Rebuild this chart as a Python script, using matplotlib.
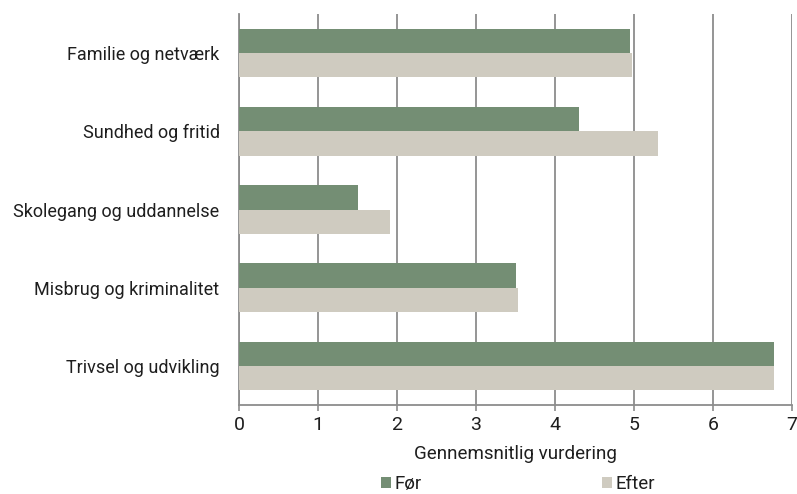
import numpy as np
import matplotlib.pyplot as plt

# data
categories = ["Familie og netværk", "Sundhed og fritid", "Skolegang og uddannelse",
              "Misbrug og kriminalitet", "Trivsel og udvikling"]
foer = [4.95, 4.30, 1.50, 3.50, 6.77]
efter = [4.98, 5.30, 1.91, 3.53, 6.77]
xticks = [0, 1, 2, 3, 4, 5, 6, 7]

green = "#748e74"
beige = "#cfcbc0"
grid_col = "#8c8c8c"
text_col = "#1e1e1e"

plt.rcParams['font.family'] = ['Roboto', 'DejaVu Sans']

fig = plt.figure(figsize=(7.97, 4.94), dpi=100)
ax = fig.add_axes([239 / 797, 1 - 405 / 494, 553 / 797, 391 / 494])

y = np.arange(len(categories))
h = 0.31
ax.barh(y - h / 2, foer, height=h, color=green, label="Før", zorder=3)
ax.barh(y + h / 2, efter, height=h, color=beige, label="Efter", zorder=3)

ax.set_ylim(len(categories) - 0.5, -0.5)
ax.set_xlim(0, 7)
ax.set_xticks(xticks)
ax.set_yticks(y)
ax.set_yticklabels(categories, fontsize=13, color=text_col)
ax.tick_params(axis='y', length=0, pad=14)
ax.tick_params(axis='x', length=4, color=grid_col, width=1.2, labelsize=14,
               labelcolor=text_col, pad=4)

ax.grid(axis='x', color=grid_col, linewidth=1.3, zorder=0)
for s in ["top", "right"]:
    ax.spines[s].set_visible(False)
for s in ["left", "bottom"]:
    ax.spines[s].set_color(grid_col)
    ax.spines[s].set_linewidth(1.3)

ax.set_xlabel("Gennemsnitlig vurdering", fontsize=13.5, color=text_col, labelpad=8)

fig.legend(loc="center", bbox_to_anchor=(518 / 797, 1 - 484 / 494), ncol=2,
           frameon=False, fontsize=13.5, handlelength=0.55, handleheight=0.55,
           handletextpad=0.2, columnspacing=9.6, labelcolor=text_col)

fig.savefig("out.png", dpi=100)
